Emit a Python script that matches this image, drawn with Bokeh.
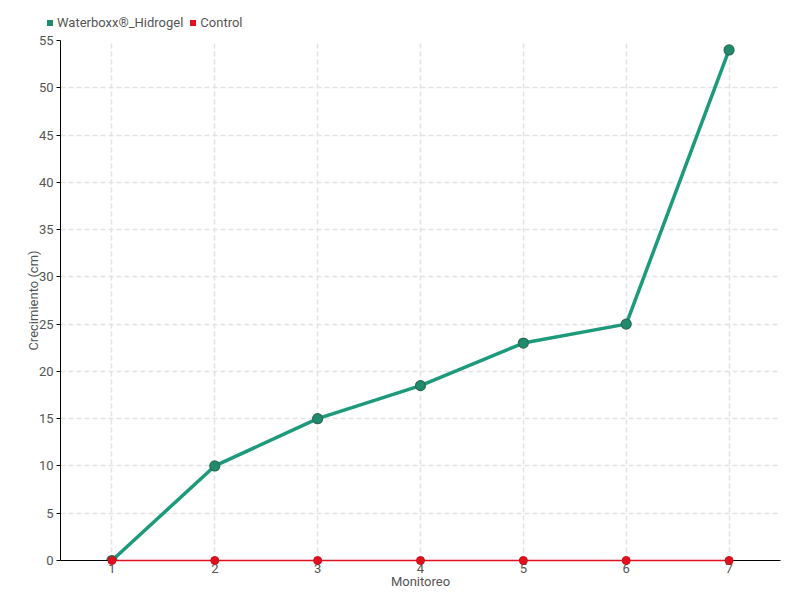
from bokeh.plotting import figure
from bokeh.layouts import column
from bokeh.models import ColumnDataSource, Legend, LegendItem, FixedTicker, Range1d
from bokeh.embed import file_html
from bokeh.resources import INLINE

monitoreo = [1, 2, 3, 4, 5, 6, 7]
waterboxx = [0, 10, 15, 18.5, 23, 25, 54]
control = [0, 0, 0, 0, 0, 0, 0]
y_ticks = [0, 5, 10, 15, 20, 25, 30, 35, 40, 45, 50, 55]

FONT = "Roboto"
TXT = "#555555"
GREEN = "#1d9a7c"
GREEN_M = "#1f8a6c"
RED = "#e0101e"

src_w = ColumnDataSource(dict(x=monitoreo, y=waterboxx))
src_c = ColumnDataSource(dict(x=monitoreo, y=control))

# ---- legend strip ----
lg = figure(width=792, height=32, output_backend="svg", toolbar_location=None,
            x_range=Range1d(0, 1), y_range=Range1d(-100, -99), min_border=0,
            x_axis_location=None, y_axis_location=None)
lg.outline_line_color = None
lg.grid.visible = False
aligned = True
if "frame_align" in lg.properties():
    lg.frame_align = False
    aligned = False
lw = lg.scatter("x", "y", source=src_w, marker="square", size=0, fill_color=GREEN_M, line_color=None)
lc = lg.scatter("x", "y", source=src_c, marker="square", size=0, fill_color=RED, line_color=None)
legend = Legend(items=[LegendItem(label="Waterboxx®_Hidrogel", renderers=[lw]),
                       LegendItem(label="Control", renderers=[lc])],
                orientation="horizontal", location=(42 if not aligned else 2, 2),
                label_text_font=FONT, label_text_font_size="13px", label_text_color=TXT,
                glyph_width=15, glyph_height=15, label_standoff=0, spacing=2,
                padding=2, margin=0, border_line_color=None, background_fill_alpha=0)
lg.add_layout(legend)

# ---- main chart ----
p = figure(frame_width=720, frame_height=520, output_backend="svg", toolbar_location=None,
           x_range=Range1d(0.5, 7.5), y_range=Range1d(0, 55),
           min_border_left=60, min_border_right=12, min_border_top=8, min_border_bottom=20)
p.outline_line_color = None
if not aligned:
    p.frame_align = False

p.line("x", "y", source=src_w, line_color=GREEN, line_width=3.5)
p.scatter("x", "y", source=src_w, size=10, fill_color=GREEN_M, line_color="#2b6b57", line_width=1.2)
p.line("x", "y", source=src_c, line_color=RED, line_width=1.5, level="overlay")
p.scatter("x", "y", source=src_c, size=8, fill_color=RED, line_color="#c8101a", line_width=1, level="overlay")

p.xaxis.ticker = FixedTicker(ticks=monitoreo)
p.yaxis.ticker = FixedTicker(ticks=y_ticks)
p.xaxis.axis_label = "Monitoreo"
p.yaxis.axis_label = "Crecimiento (cm)"
for ax in (p.xaxis, p.yaxis):
    ax.axis_label_text_font = FONT
    ax.axis_label_text_font_size = "13px"
    ax.axis_label_text_font_style = "normal"
    ax.axis_label_text_color = TXT
    ax.major_label_text_font = FONT
    ax.major_label_text_font_size = "13px"
    ax.major_label_text_color = TXT
    ax.axis_line_color = "black"
    ax.minor_tick_line_color = None
p.xaxis.major_tick_line_color = None
p.xaxis.major_label_standoff = -3
p.xaxis.axis_label_standoff = -2
p.yaxis.major_tick_in = 0
p.yaxis.major_tick_out = 4
p.yaxis.major_label_standoff = 3
p.yaxis.axis_label_standoff = -5

p.grid.grid_line_color = "#e3e3e3"
p.grid.grid_line_dash = "5 3"
p.grid.grid_line_width = 1.5

layout = column(lg, p, spacing=0)
open("out.html", "w").write(file_html(layout, INLINE))
